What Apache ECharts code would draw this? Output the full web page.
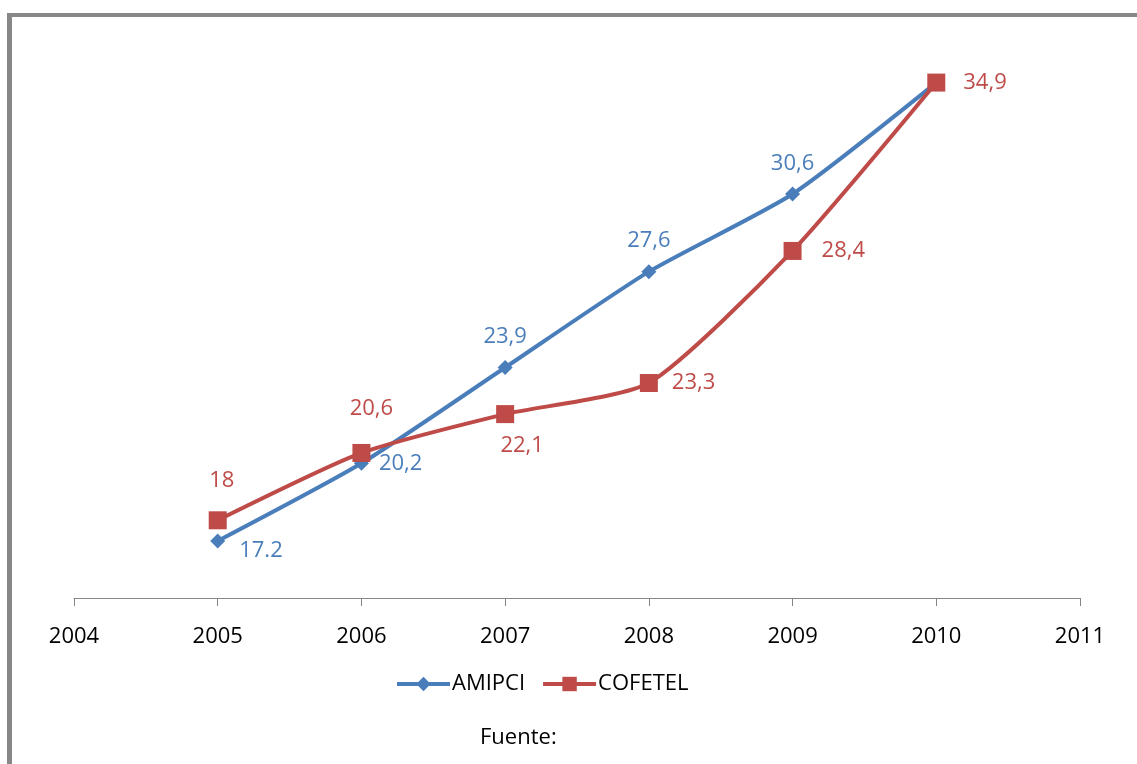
<!DOCTYPE html>
<html>
<head>
<meta charset="utf-8">
<style>
html,body{margin:0;padding:0;background:#fff;}
#chart{width:1137px;height:764px;}
</style>
<script src="https://cdn.jsdelivr.net/npm/echarts@6/dist/echarts.min.js"></script>
</head>
<body>
<div id="chart"></div>
<script>
const years = [2005, 2006, 2007, 2008, 2009, 2010];
const amipci = [17.2, 20.2, 23.9, 27.6, 30.6, 34.9];
const cofetel = [18, 20.6, 22.1, 23.3, 28.4, 34.9];
const amipciLabels = ['17.2', '20,2', '23,9', '27,6', '30,6', ''];
const cofetelLabels = ['18', '20,6', '22,1', '23,3', '28,4', '34,9'];
const xTicks = [2004, 2005, 2006, 2007, 2008, 2009, 2010, 2011];

const FONT = '"Open Sans", sans-serif';
const BLUE = '#4A7EBB';
const RED = '#BE4B48';

const amipciPos = [
  {position: 'right', distance: 14, offset: [0, 10]},
  {position: 'right', distance: 10},
  {position: 'top', distance: 12},
  {position: 'top', distance: 12},
  {position: 'top', distance: 12},
  {position: 'right', distance: 10}
];
const cofetelPos = [
  {position: 'top', distance: 20, offset: [4, 0]},
  {position: 'top', distance: 24, offset: [10, 0]},
  {position: 'bottom', distance: 12, offset: [17, 0]},
  {position: 'right', distance: 14},
  {position: 'right', distance: 20},
  {position: 'right', distance: 18}
];

function build(vals, labels, pos, color) {
  return vals.map((v, i) => ({
    value: [years[i], v],
    label: Object.assign({show: labels[i] !== '', formatter: labels[i], color: color,
      fontFamily: FONT, fontSize: 22}, pos[i])
  }));
}

const chart = echarts.init(document.getElementById('chart'), null, {renderer: 'canvas'});
chart.setOption({
  animation: false,
  backgroundColor: '#fff',
  graphic: [
    {type: 'rect', shape: {x: 7, y: 13, width: 5, height: 751}, style: {fill: '#878787'}},
    {type: 'rect', shape: {x: 7, y: 13, width: 1130, height: 4}, style: {fill: '#878787'}},
    {type: 'text', left: 480, top: 727, style: {text: 'Fuente:', font: '22px ' + FONT, fill: '#000'}}
  ],
  grid: {left: 74, right: 57, top: 80, bottom: 166},
  legend: {
    bottom: 64,
    left: 390,
    itemWidth: 53,
    itemHeight: 18,
    itemGap: 16,
    lineStyle: {width: 4},
    textStyle: {fontFamily: FONT, fontSize: 22, color: '#000', padding: [0, 0, 0, -3]},
    data: ['AMIPCI', 'COFETEL']
  },
  xAxis: {
    type: 'value',
    min: 2004, max: 2011, interval: 1,
    splitLine: {show: false},
    axisLine: {lineStyle: {color: '#868686', width: 1}},
    axisTick: {show: true, length: 8, lineStyle: {color: '#868686'}},
    axisLabel: {formatter: v => String(v), fontFamily: FONT, fontSize: 22, color: '#000', margin: 28,
      showMinLabel: true, showMaxLabel: true}
  },
  yAxis: {
    type: 'value', min: 15, max: 35,
    show: false, splitLine: {show: false}
  },
  series: [
    {
      name: 'AMIPCI', type: 'line', smooth: 0.2,
      symbol: 'diamond', symbolSize: 15,
      lineStyle: {color: BLUE, width: 4},
      itemStyle: {color: BLUE},
      data: build(amipci, amipciLabels, amipciPos, BLUE),
      z: 2
    },
    {
      name: 'COFETEL', type: 'line', smooth: 0.2,
      symbol: 'rect', symbolSize: 18,
      lineStyle: {color: RED, width: 4},
      itemStyle: {color: RED},
      data: build(cofetel, cofetelLabels, cofetelPos, RED),
      z: 3
    }
  ]
});
</script>
</body>
</html>
